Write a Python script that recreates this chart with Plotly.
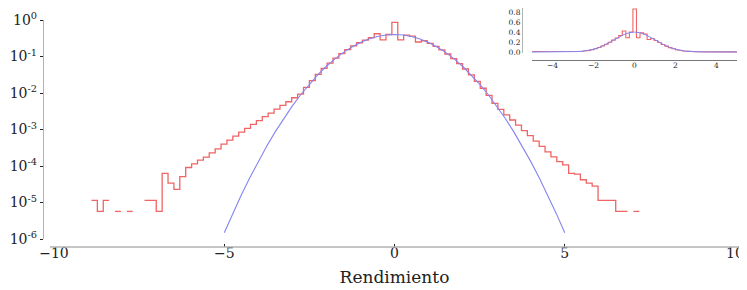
import plotly.graph_objects as go

# ---------------- data ----------------
# histogram (density) of returns: first bin edge, bin width, densities per bin
bin_start = -8.90
bin_width = 0.173
hist_density = [
    1.14e-5, 5.7e-6, 1.14e-5, 0, 5.7e-6, 0, 5.7e-6, 0, 0, 1.14e-5,
    1.14e-5, 5.7e-6, 6.3e-5, 3.4e-5, 2.3e-5, 5.1e-5, 9.1e-5, 1.14e-4, 1.45e-4, 1.74e-4,
    2.29e-4, 2.95e-4, 3.98e-4, 5.13e-4, 6.61e-4, 8.51e-4, 1.07e-3, 1.38e-3, 1.74e-3, 2.24e-3,
    2.82e-3, 3.63e-3, 4.57e-3, 5.75e-3, 7.41e-3, 9.33e-3, 0.0143, 0.0218, 0.0323, 0.0470,
    0.0662, 0.0905, 0.1200, 0.1550, 0.1950, 0.2380, 0.2800, 0.3300, 0.4200, 0.2850,
    0.4000, 0.8600, 0.2850, 0.3850, 0.3600, 0.2500, 0.2700, 0.2300, 0.1890, 0.1510,
    0.1170, 0.0880, 0.0640, 0.0455, 0.0312, 0.0208, 0.0135, 0.0086, 0.0052, 3.55e-3,
    2.51e-3, 1.82e-3, 1.32e-3, 9.33e-4, 6.76e-4, 4.79e-4, 3.47e-4, 2.45e-4, 1.78e-4, 1.32e-4,
    1.07e-4, 6.3e-5, 6.0e-5, 4.2e-5, 3.4e-5, 2.8e-5, 1.14e-5, 1.14e-5, 1.14e-5, 5.7e-6,
    5.7e-6, 0, 5.7e-6,
]

# normal reference curve
normal_x = [-5.0, -4.75, -4.5, -4.25, -4.0, -3.75, -3.5, -3.25, -3.0, -2.75, -2.5,
            -2.25, -2.0, -1.75, -1.5, -1.25, -1.0, -0.75, -0.5, -0.25, 0.0,
            0.25, 0.5, 0.75, 1.0, 1.25, 1.5, 1.75, 2.0, 2.25, 2.5,
            2.75, 3.0, 3.25, 3.5, 3.75, 4.0, 4.25, 4.5, 4.75, 5.0]
normal_half = [1.4867e-6, 5.031e-6, 1.598e-5, 4.774e-5, 1.3383e-4, 3.526e-4, 8.73e-4,
               2.029e-3, 4.432e-3, 9.09e-3, 0.01753, 0.03174, 0.05399, 0.08628,
               0.12952, 0.18265, 0.24197, 0.30114, 0.35207, 0.38667, 0.39894]
normal_y = normal_half + normal_half[-2::-1]

x_ticks = [-10, -5, 0, 5, 10]
x_tick_text = ["\u221210", "\u22125", "0", "5", "10"]
y_ticks = [1e-6, 1e-5, 1e-4, 1e-3, 1e-2, 1e-1, 1]
y_tick_text = ["10<sup>-6</sup>", "10<sup>-5</sup>", "10<sup>-4</sup>", "10<sup>-3</sup>",
               "10<sup>-2</sup>", "10<sup>-1</sup>", "10<sup>0</sup>"]
inset_x_ticks = [-4, -2, 0, 2, 4]
inset_x_text = ["\u22124", "\u22122", "0", "2", "4"]
inset_y_ticks = [0.0, 0.2, 0.4, 0.6, 0.8]
inset_y_text = ["0.0", "0.2", "0.4", "0.6", "0.8"]
x_title = "Rendimiento"

# ---------------- build step outlines ----------------
log_x, log_y = [], []
lin_x, lin_y = [], []
prev = 0
for i, v in enumerate(hist_density):
    left = bin_start + i * bin_width
    right = left + bin_width
    if v > 0:
        if prev <= 0 and log_x:
            log_x.append(None); log_y.append(None)
        log_x += [left, right]; log_y += [v, v]
    prev = v
    lin_x += [left, right]; lin_y += [v, v]
lin_x = [bin_start] + lin_x + [bin_start + len(hist_density) * bin_width]
lin_y = [0] + lin_y + [0]

RED = "#ef6464"
BLUE = "#8484f2"
AXIS = "#b3b3b3"
FONT = "DejaVu Serif"

# page is 747x290; the html body has an 8px margin, so the figure starts at (8, 8)
OFF = 8
FW, FH = 747 - OFF, 290 - OFF
AXIS_Y = 247                # page y of the main x-axis line
PH = AXIS_Y - OFF           # plot-area height (t=0)
B = FH - PH


def px(x):   # page x -> paper x
    return (x - OFF) / FW


def py(y):   # page y -> paper y
    return (AXIS_Y - y) / PH


fig = go.Figure()
fig.add_trace(go.Scatter(x=log_x, y=log_y, mode="lines", line=dict(color=RED, width=1.3),
                         connectgaps=False, showlegend=False, hoverinfo="skip"))
fig.add_trace(go.Scatter(x=normal_x, y=normal_y, mode="lines", line=dict(color=BLUE, width=1.1),
                         showlegend=False, hoverinfo="skip"))
fig.add_trace(go.Scatter(x=lin_x, y=lin_y, mode="lines", line=dict(color=RED, width=1.1),
                         xaxis="x2", yaxis="y2", showlegend=False, hoverinfo="skip"))
fig.add_trace(go.Scatter(x=normal_x, y=normal_y, mode="lines", line=dict(color=BLUE, width=1.0),
                         xaxis="x2", yaxis="y2", showlegend=False, hoverinfo="skip"))

fig.update_layout(
    width=FW, height=FH,
    margin=dict(l=0, r=0, t=0, b=B, autoexpand=False),
    paper_bgcolor="white", plot_bgcolor="white",
    font=dict(family=FONT, color="#222"),
    xaxis=dict(domain=[px(54), px(735)], range=[-10, 10], anchor="free", position=0,
               automargin=False, ticklabeloverflow="allow",
               showgrid=False, zeroline=False, showline=False,
               tickvals=x_ticks, ticktext=x_tick_text, ticks="inside", ticklen=3,
               tickcolor="#222", tickfont=dict(size=14, family=FONT), ticklabelstandoff=-4,
               title=dict(text=x_title, font=dict(size=17, family=FONT), standoff=11)),
    yaxis=dict(type="log", domain=[py(239), py(20)], range=[-6, 0],
               anchor="free", position=px(43), automargin=False, ticklabeloverflow="allow",
               showgrid=False, zeroline=False, showline=True, linecolor=AXIS, linewidth=1.3,
               tickvals=y_ticks, ticktext=y_tick_text, ticks="outside", ticklen=3,
               tickcolor="#222", tickfont=dict(size=14, family=FONT)),
    xaxis2=dict(domain=[px(532), px(737)], range=[-5, 5], anchor="free",
                position=py(60), automargin=False, ticklabeloverflow="allow",
                showgrid=False, zeroline=False, showline=True, linecolor="#777", linewidth=1,
                tickvals=inset_x_ticks, ticktext=inset_x_text, ticks="",
                tickfont=dict(size=7.5, family=FONT), ticklabelstandoff=-2),
    yaxis2=dict(domain=[py(53), 1.0], range=[-0.02, 0.88], anchor="free",
                position=px(522), automargin=False, ticklabeloverflow="allow",
                showgrid=False, zeroline=False, showline=True, linecolor=AXIS, linewidth=1,
                tickvals=inset_y_ticks, ticktext=inset_y_text, ticks="",
                tickfont=dict(size=7.5, family=FONT)),
    shapes=[dict(type="line", xref="paper", yref="paper", x0=px(50), x1=1, y0=0, y1=0,
                 line=dict(color=AXIS, width=1.3))],
)

fig.write_html("out.html")
